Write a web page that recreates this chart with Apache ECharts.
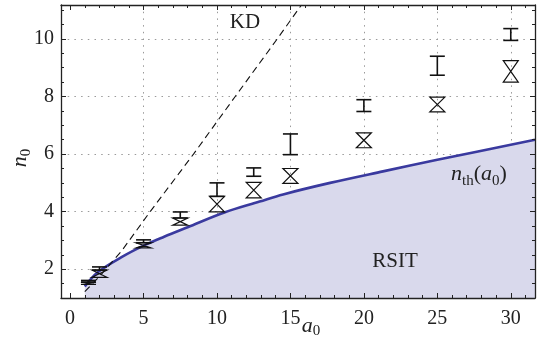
<!DOCTYPE html>
<html><head><meta charset="utf-8">
<script src="https://cdn.jsdelivr.net/npm/echarts@6/dist/echarts.min.js"></script>
<style>html,body{margin:0;padding:0;background:#fff}#c{width:541px;height:342px}</style>
</head><body><div id="c"></div>
<script>
// ---- data ----
const xMajor = [0, 5, 10, 15, 20, 25, 30];
const xGrid = [5, 10, 15, 20, 25, 30];
const xMinor = [1,2,3,4,6,7,8,9,11,12,13,14,16,17,18,19,21,22,23,24,26,27,28,29,31];
const yMajor = [2, 4, 6, 8, 10];
const yMinor = [1.5,2.5,3,3.5,4.5,5,5.5,6.5,7,7.5,8.5,9,9.5,10.5,11];

// threshold curve n_th(a0)
const curveX = [1.0, 1.9, 3.5, 5, 6.4, 8, 10.5, 12.9, 14.5, 17.7, 21.3, 25, 31.65];
const curveY = [1.4, 1.9, 2.42, 2.82, 3.13, 3.46, 3.97, 4.35, 4.6, 5.0, 5.4, 5.8, 6.5];

// KD dashed line
const kdX = [1.0, 2.0, 3.5, 5.45, 8.4, 11.24, 14.1, 15.75];
const kdY = [1.22, 1.75, 2.63, 4.0, 6.0, 8.0, 10.0, 11.18];

// markers
const markX  = [1.25, 2, 5, 7.5, 10, 12.5, 15, 20, 25, 30];
const barLow = [1.55, 1.97, 2.92, 3.78, 4.53, 5.23, 5.98, 7.48, 8.74, 9.95];
const barHigh= [1.61, 2.08, 3.02, 3.99, 5.00, 5.52, 6.70, 7.89, 9.40, 10.36];
const hgLow  = [1.47, 1.72, 2.74, 3.53, 3.99, 4.48, 4.98, 6.22, 7.47, 8.50];
const hgHigh = [1.55, 1.97, 2.92, 3.78, 4.53, 5.02, 5.50, 6.74, 7.98, 9.25];

const X_MIN = -0.62, X_MAX = 31.65, Y_MIN = 1.0, Y_MAX = 11.18;

// ---- chart ----
const FONT = "'Liberation Serif', 'Times New Roman', serif";
const INK = '#222';
const chart = echarts.init(document.getElementById('c'), null, {renderer: 'canvas'});

function ax(extra) {
  return Object.assign({
    type: 'value', z: 10,
    axisLine: {show: false, onZero: false},
    axisLabel: {show: false},
    splitLine: {show: false},
    axisTick: {show: false}
  }, extra);
}
const frameLine = {show: true, onZero: false, lineStyle: {color: INK, width: 1.3}};
const majTick = vals => ({show: true, inside: true, length: 5, customValues: vals, lineStyle: {color: INK, width: 1}});
const minTick = vals => ({show: true, inside: true, length: 3, customValues: vals, lineStyle: {color: INK, width: 1}});
const gridStyle = {show: true, lineStyle: {color: '#9a9a9a', width: 1, type: [1.5, 5.2]}};

const xr = {min: X_MIN, max: X_MAX};
const yr = {min: Y_MIN, max: Y_MAX};

const option = {
  animation: false,
  backgroundColor: '#fff',
  grid: {left: 61, right: 6, top: 5, bottom: 44},
  xAxis: [
    ax(Object.assign({position: 'bottom', axisLine: frameLine, axisTick: majTick(xMajor),
      axisLabel: {show: true, customValues: xMajor, fontFamily: FONT, fontSize: 20, color: INK, margin: 11}}, xr)),
    ax(Object.assign({position: 'bottom', axisTick: minTick(xMinor)}, xr)),
    ax(Object.assign({position: 'top', axisLine: frameLine, axisTick: majTick(xMajor)}, xr)),
    ax(Object.assign({position: 'top', axisTick: minTick(xMinor)}, xr)),
    ax(Object.assign({position: 'bottom', z: 0, axisTick: {show: false, customValues: xGrid}, splitLine: gridStyle}, xr))
  ],
  yAxis: [
    ax(Object.assign({position: 'left', axisLine: frameLine, axisTick: majTick(yMajor),
      axisLabel: {show: true, customValues: yMajor, fontFamily: FONT, fontSize: 20, color: INK, margin: 7}}, yr)),
    ax(Object.assign({position: 'left', axisTick: minTick(yMinor)}, yr)),
    ax(Object.assign({position: 'right', axisLine: frameLine, axisTick: majTick(yMajor)}, yr)),
    ax(Object.assign({position: 'right', axisTick: minTick(yMinor)}, yr)),
    ax(Object.assign({position: 'left', z: 0, axisTick: {show: false, customValues: yMajor}, splitLine: gridStyle}, yr))
  ],
  series: [
    {
      type: 'line', name: 'nth', xAxisIndex: 0, yAxisIndex: 0, z: 2,
      data: curveX.map((x, i) => [x, curveY[i]]),
      smooth: 0.35, showSymbol: false, symbol: 'none',
      lineStyle: {color: '#3a3a9f', width: 2.6},
      areaStyle: {color: '#d9d9ec', opacity: 1, origin: 'start'}
    },
    {
      type: 'line', name: 'KD', xAxisIndex: 0, yAxisIndex: 0, z: 3,
      data: kdX.map((x, i) => [x, kdY[i]]),
      smooth: false, showSymbol: false, symbol: 'none',
      lineStyle: {color: '#111', width: 1.1, type: [7, 4.5]}
    },
    {
      type: 'custom', name: 'bars', xAxisIndex: 0, yAxisIndex: 0, z: 5,
      data: markX.map((x, i) => [x, barLow[i], barHigh[i]]),
      encode: {x: 0, y: [1, 2]},
      renderItem: function (params, api) {
        const x = api.value(0);
        const lo = api.coord([x, api.value(1)]);
        const hi = api.coord([x, api.value(2)]);
        const w = 7.5;
        const st = {stroke: '#111', lineWidth: 1.6, fill: null};
        return {type: 'group', children: [
          {type: 'line', shape: {x1: lo[0], y1: lo[1], x2: hi[0], y2: hi[1]}, style: st},
          {type: 'line', shape: {x1: hi[0] - w, y1: hi[1], x2: hi[0] + w, y2: hi[1]}, style: st},
          {type: 'line', shape: {x1: lo[0] - w, y1: lo[1], x2: lo[0] + w, y2: lo[1]}, style: st}
        ]};
      }
    },
    {
      type: 'custom', name: 'hourglass', xAxisIndex: 0, yAxisIndex: 0, z: 5,
      data: markX.map((x, i) => [x, hgLow[i], hgHigh[i]]),
      encode: {x: 0, y: [1, 2]},
      renderItem: function (params, api) {
        const x = api.value(0);
        const lo = api.coord([x, api.value(1)]);
        const hi = api.coord([x, api.value(2)]);
        const w = 7.5;
        return {type: 'polygon',
          shape: {points: [[hi[0] - w, hi[1]], [hi[0] + w, hi[1]], [lo[0] - w, lo[1]], [lo[0] + w, lo[1]]]},
          style: {stroke: '#111', lineWidth: 1.2, fill: 'rgba(0,0,0,0)'}};
      }
    }
  ],
  graphic: [
    {type: 'text', x: 245, y: 22, z: 20, style: {text: 'KD', fontFamily: FONT, fontSize: 21, fill: INK, align: 'center', verticalAlign: 'middle'}},
    {type: 'text', x: 395, y: 261, z: 20, style: {text: 'RSIT', fontFamily: FONT, fontSize: 21, fill: INK, align: 'center', verticalAlign: 'middle'}},
    {type: 'text', x: 479, y: 174, z: 20, style: {
      text: '{i|n}{s|th}{r|(}{i|a}{s|0}{r|)}', align: 'center', verticalAlign: 'middle', fill: INK,
      rich: {
        i: {fontFamily: FONT, fontStyle: 'italic', fontSize: 22, lineHeight: 22, verticalAlign: 'top', fill: INK},
        r: {fontFamily: FONT, fontSize: 22, lineHeight: 22, verticalAlign: 'top', fill: INK},
        s: {fontFamily: FONT, fontSize: 15, lineHeight: 15, padding: [11, 0, 0, 0], verticalAlign: 'top', fill: INK}
      }}},
    {type: 'text', x: 311, y: 326, z: 20, style: {
      text: '{i|a}{s|0}', align: 'center', verticalAlign: 'middle', fill: INK,
      rich: {
        i: {fontFamily: FONT, fontStyle: 'italic', fontSize: 22, lineHeight: 22, verticalAlign: 'top', fill: INK},
        s: {fontFamily: FONT, fontSize: 15, lineHeight: 15, padding: [9, 0, 0, 0], verticalAlign: 'top', fill: INK}
      }}},
    {type: 'text', x: 20, y: 158, z: 20, rotation: Math.PI / 2, style: {
      text: '{i|n}{s|0}', align: 'center', verticalAlign: 'middle', fill: INK,
      rich: {
        i: {fontFamily: FONT, fontStyle: 'italic', fontSize: 22, lineHeight: 22, verticalAlign: 'top', fill: INK},
        s: {fontFamily: FONT, fontSize: 15, lineHeight: 15, padding: [10, 0, 0, 0], verticalAlign: 'top', fill: INK}
      }}}
  ]
};
chart.setOption(option);
</script>
</body></html>
